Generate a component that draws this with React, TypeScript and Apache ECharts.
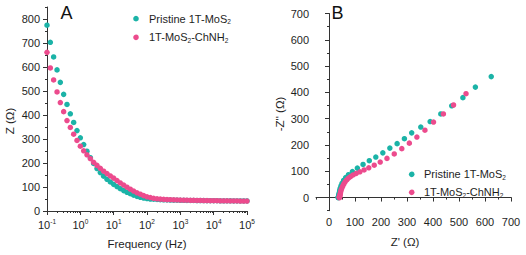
import React, { useEffect, useRef } from "react";
import * as echarts from "echarts";

// ---- Panel A: impedance magnitude vs frequency ----
const freqs = [
  0.1, 0.126, 0.158, 0.2, 0.251, 0.316, 0.398, 0.501, 0.631, 0.794,
  1, 1.26, 1.58, 2, 2.51, 3.16, 3.98, 5.01, 6.31, 7.94,
  10, 12.6, 15.8, 20, 25.1, 31.6, 39.8, 50.1, 63.1, 79.4,
  100, 126, 158, 200, 251, 316, 398, 501, 631, 794,
  1000, 1260, 1580, 2000, 2510, 3160, 3980, 5010, 6310, 7940,
  10000, 12600, 15800, 20000, 25100, 31600, 39800, 50100, 63100, 79400,
  100000,
];
const pristineZ = [
  774, 703, 642, 588, 536, 486, 444, 405, 369, 335,
  305, 277, 249, 222, 198, 177, 160, 145, 132, 121,
  111, 102, 93, 85, 78, 72, 66, 61, 57, 54,
  52, 50, 49, 48, 47, 46.5, 46, 45.5, 45, 45,
  44.5, 44.5, 44, 44, 44, 43.5, 43.5, 43.5, 43, 43,
  43, 43, 42.5, 42.5, 42.5, 42.5, 42, 42, 42, 42, 42,
];
const chnh2Z = [
  661, 596, 546, 496, 452, 414, 377, 348, 320, 294,
  270, 251, 234, 218, 203, 190, 178, 166, 156, 146,
  137, 127, 117, 108, 99, 91, 83, 76, 70, 64,
  59, 56, 53, 51, 49.5, 48.5, 47.5, 47, 46.5, 46,
  45.5, 45, 45, 44.5, 44.5, 44, 44, 43.5, 43.5, 43,
  43, 43, 42.5, 42.5, 42.5, 42, 42, 42, 41.5, 41.5, 41.5,
];
const freqTickLabels = [0.1, 1, 10, 100, 1000, 10000, 100000];
const zTickLabels = [0, 100, 200, 300, 400, 500, 600, 700, 800];

// ---- Panel B: Nyquist plot ----
const pristineZre = [
  624, 563, 515, 472, 430, 389, 353, 318, 290, 262, 234, 207, 180, 155, 131,
  109, 90, 75, 64, 56, 50, 46, 43, 41, 40, 39, 38, 38, 37, 37, 37, 36, 36, 36,
  36, 36,
];
const pristineZim = [
  460, 420, 380, 349, 318, 289, 268, 246, 224, 205, 188, 170, 154, 140, 126,
  112, 99, 87, 76, 65, 54, 44, 35, 27, 20, 15, 11, 8, 6, 4, 3, 2, 1, 1, 0, 0,
];
const chnh2Zre = [
  527, 479, 440, 402, 369, 338, 309, 280, 251, 223, 197, 174, 153, 135, 119,
  105, 93, 83, 75, 68, 62, 57, 53, 50, 47, 45, 44, 43, 42, 41, 41, 40, 40, 40,
  40, 40,
];
const chnh2Zim = [
  395, 352, 318, 287, 256, 230, 207, 186, 166, 149, 135, 123, 113, 105, 98,
  92, 86, 80, 74, 67, 60, 52, 44, 37, 30, 23, 17, 13, 9, 6, 4, 3, 2, 1, 0, 0,
];
const nyqTickLabels = [0, 100, 200, 300, 400, 500, 600, 700];

const seriesNames = ["Pristine 1T-MoS2", "1T-MoS2-ChNH2"];
const TEAL = "#1bb3a7";
const PINK = "#ec4b8d";
const TXT = "#1e1e1e";
const FONT = "Liberation Sans, Arial, sans-serif";

export default function App() {
  const ref = useRef<HTMLDivElement>(null);
  useEffect(() => {
    if (!ref.current) return;
    const chart = echarts.init(ref.current, undefined, { renderer: "svg" });

    const logMinor: number[] = [];
    for (let d = 0.1; d < 100000; d *= 10) {
      for (let k = 2; k <= 9; k++) logMinor.push(Number((d * k).toPrecision(3)));
    }

    const axisLine = { show: true, lineStyle: { color: "#333", width: 1 } };
    const baseLabel = { color: TXT, fontFamily: FONT, fontSize: 11 };

    const pairs = (xs: number[], ys: number[]) => xs.map((x, i) => [x, ys[i]]);

    const option: any = {
      animation: false,
      textStyle: { fontFamily: FONT },
      grid: [
        { left: 47, top: 7, width: 200, height: 204 },
        { left: 316, top: 13.5, width: 195, height: 197.2 },
      ],
      xAxis: [
        {
          type: "log",
          gridIndex: 0,
          position: "bottom",
          logBase: 10,
          min: 0.1,
          max: 100000,
          axisLine,
          splitLine: { show: false },
          axisTick: { show: true, length: 4, inside: false, customValues: freqTickLabels, lineStyle: { color: "#333" } },
          axisLabel: {
            ...baseLabel,
            margin: 7,
            customValues: freqTickLabels,
            formatter: (v: number) => "10{sup|" + Math.round(Math.log10(v)) + "}",
            rich: { sup: { fontSize: 6.5, verticalAlign: "top", color: TXT, fontFamily: FONT, padding: [0, 0, 6, 0] } },
          },
        },
        {
          type: "log",
          gridIndex: 0,
          position: "bottom",
          logBase: 10,
          min: 0.1,
          max: 100000,
          axisLine: { show: false },
          splitLine: { show: false },
          axisLabel: { show: false },
          axisTick: { show: true, length: 2, customValues: logMinor, lineStyle: { color: "#333" } },
        },
        {
          type: "value",
          gridIndex: 1,
          position: "bottom",
          min: -50,
          max: 700,
          axisLine,
          splitLine: { show: false },
          axisTick: { show: true, length: 4, customValues: nyqTickLabels, lineStyle: { color: "#333" } },
          axisLabel: { ...baseLabel, margin: 6, customValues: nyqTickLabels },
        },
        {
          type: "value",
          gridIndex: 1,
          position: "bottom",
          min: -50,
          max: 700,
          interval: 50,
          axisLine: { show: false },
          splitLine: { show: false },
          axisLabel: { show: false },
          axisTick: { show: true, length: 2, lineStyle: { color: "#333" } },
        },
      ],
      yAxis: [
        {
          type: "value",
          gridIndex: 0,
          position: "left",
          min: 0,
          max: 850,
          axisLine,
          splitLine: { show: false },
          axisTick: { show: true, length: 4, customValues: zTickLabels, lineStyle: { color: "#333" } },
          axisLabel: { ...baseLabel, margin: 7, customValues: zTickLabels },
        },
        {
          type: "value",
          gridIndex: 0,
          position: "left",
          min: 0,
          max: 850,
          interval: 50,
          axisLine: { show: false },
          splitLine: { show: false },
          axisLabel: { show: false },
          axisTick: { show: true, length: 2, lineStyle: { color: "#333" } },
        },
        {
          type: "value",
          gridIndex: 1,
          position: "left",
          min: -50,
          max: 700,
          axisLine,
          splitLine: { show: false },
          axisTick: { show: true, length: 4, customValues: nyqTickLabels, lineStyle: { color: "#333" } },
          axisLabel: { ...baseLabel, margin: 7, customValues: nyqTickLabels },
        },
        {
          type: "value",
          gridIndex: 1,
          position: "left",
          min: -50,
          max: 700,
          interval: 50,
          axisLine: { show: false },
          splitLine: { show: false },
          axisLabel: { show: false },
          axisTick: { show: true, length: 2, lineStyle: { color: "#333" } },
        },
      ],
      series: [
        {
          name: seriesNames[0],
          type: "scatter",
          xAxisIndex: 0,
          yAxisIndex: 0,
          symbol: "circle",
          symbolSize: 5.5,
          itemStyle: { color: TEAL, opacity: 1 },
          data: pairs(freqs, pristineZ),
        },
        {
          name: seriesNames[1],
          type: "scatter",
          xAxisIndex: 0,
          yAxisIndex: 0,
          symbol: "circle",
          symbolSize: 5.5,
          itemStyle: { color: PINK, opacity: 1 },
          data: pairs(freqs, chnh2Z),
        },
        {
          name: seriesNames[0],
          type: "scatter",
          xAxisIndex: 2,
          yAxisIndex: 2,
          symbol: "circle",
          symbolSize: 5.5,
          itemStyle: { color: TEAL, opacity: 1 },
          data: pairs(pristineZre, pristineZim),
        },
        {
          name: seriesNames[1],
          type: "scatter",
          xAxisIndex: 2,
          yAxisIndex: 2,
          symbol: "circle",
          symbolSize: 5.5,
          itemStyle: { color: PINK, opacity: 1 },
          data: pairs(chnh2Zre, chnh2Zim),
        },
      ],
      graphic: (() => {
        const rich = {
          a: { fontSize: 11, fontFamily: FONT, fill: TXT, lineHeight: 13 },
          s: { fontSize: 6.5, fontFamily: FONT, fill: TXT, verticalAlign: "bottom", lineHeight: 8, padding: [5, 0, 0, 0] },
        };
        const legend = (mx: number, y1: number, y2: number, tx: number) => [
          { type: "circle", shape: { cx: mx, cy: y1, r: 2.8 }, style: { fill: TEAL } },
          { type: "circle", shape: { cx: mx, cy: y2, r: 2.8 }, style: { fill: PINK } },
          {
            type: "text",
            x: tx,
            y: y1,
            style: { text: "{a|Pristine 1T-MoS}{s|2}", rich, textVerticalAlign: "middle", fill: TXT },
          },
          {
            type: "text",
            x: tx,
            y: y2,
            style: { text: "{a|1T-MoS}{s|2}{a|-ChNH}{s|2}", rich, textVerticalAlign: "middle", fill: TXT },
          },
        ];
        return [
          { type: "text", x: 66.5, y: 13, style: { text: "A", fontSize: 18, fontFamily: FONT, fill: "#111", textAlign: "center", textVerticalAlign: "middle" } },
          { type: "text", x: 337.5, y: 13, style: { text: "B", fontSize: 18, fontFamily: FONT, fill: "#111", textAlign: "center", textVerticalAlign: "middle" } },
          { type: "text", x: 147, y: 244, style: { text: "Frequency (Hz)", fontSize: 11.5, fontFamily: FONT, fill: TXT, textAlign: "center", textVerticalAlign: "middle" } },
          { type: "text", x: 405, y: 242, style: { text: "Z' (Ω)", fontSize: 11.5, fontFamily: FONT, fill: TXT, textAlign: "center", textVerticalAlign: "middle" } },
          { type: "text", x: 10, y: 121, rotation: Math.PI / 2, style: { text: "Z (Ω)", fontSize: 11.5, fontFamily: FONT, fill: TXT, textAlign: "center", textVerticalAlign: "middle" } },
          { type: "text", x: 280, y: 114, rotation: Math.PI / 2, style: { text: "-Z'' (Ω)", fontSize: 11.5, fontFamily: FONT, fill: TXT, textAlign: "center", textVerticalAlign: "middle" } },
          ...legend(136, 18.7, 37.3, 149),
          ...legend(411.7, 174.3, 192.3, 424),
        ];
      })(),
    };
    chart.setOption(option);
    return () => chart.dispose();
  }, []);
  return (
    <div
      ref={ref}
      style={{ position: "absolute", left: 0, top: 0, width: 526, height: 255, background: "#fff" }}
    />
  );
}
